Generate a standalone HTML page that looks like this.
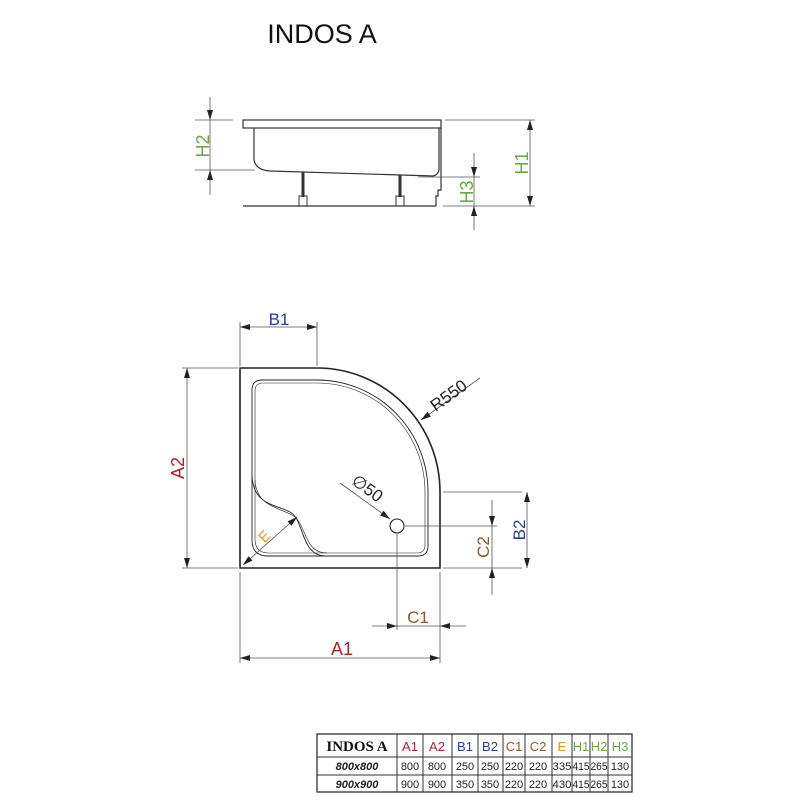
<!DOCTYPE html>
<html><head><meta charset="utf-8"><style>
html,body{margin:0;padding:0;background:#fff;}
svg{display:block}
</style></head><body>
<svg width="800" height="800" viewBox="0 0 800 800" xmlns="http://www.w3.org/2000/svg" font-family="Liberation Sans, sans-serif">
<defs>
<marker id="ar" viewBox="0 0 10 6" refX="10" refY="3" markerWidth="11" markerHeight="6" orient="auto-start-reverse" markerUnits="userSpaceOnUse"><path d="M0,0 L10,3 L0,6 Z" fill="#222"/></marker>
</defs>
<text x="322" y="43" font-size="27" text-anchor="middle" fill="#111">INDOS A</text>

<!-- elevation -->
<g stroke="#333" fill="none" stroke-width="1.2">
<rect x="243" y="120" width="198" height="8" fill="#fff"/>
<path d="M254,128 L254,160 Q256,170 270,171 L433,176 Q438,175 439,170 L439,128"/>
<path d="M439,128 L441,128 L441,190 L438,190 L438,196 L436,196 L436,206"/>
<line x1="243" y1="206" x2="436" y2="206"/>
<line x1="303" y1="172" x2="303" y2="197" stroke-width="3"/>
<rect x="299" y="196" width="8" height="10" stroke-width="1"/>
<line x1="400" y1="175" x2="400" y2="197" stroke-width="3"/>
<rect x="396" y="196" width="8" height="10" stroke-width="1"/>
</g>
<g stroke="#555" stroke-width="0.8" fill="none">
<line x1="195" y1="120" x2="233" y2="120"/>
<line x1="195" y1="170" x2="255" y2="170"/>
<line x1="210" y1="97" x2="210" y2="120" marker-end="url(#ar)"/>
<line x1="210" y1="120" x2="210" y2="170"/>
<line x1="210" y1="195" x2="210" y2="170" marker-end="url(#ar)"/>
<line x1="445" y1="120" x2="535" y2="120"/>
<line x1="443" y1="206" x2="535" y2="206"/>
<line x1="530" y1="120" x2="530" y2="206" marker-start="url(#ar)" marker-end="url(#ar)"/>
<line x1="418" y1="177" x2="480" y2="177"/>
<line x1="474" y1="153" x2="474" y2="177" marker-end="url(#ar)"/>
<line x1="474" y1="177" x2="474" y2="206"/>
<line x1="474" y1="230" x2="474" y2="206" marker-end="url(#ar)"/>
</g>
<g fill="#6aa843" font-size="18">
<text transform="translate(209,146) rotate(-90)" text-anchor="middle">H2</text>
<text transform="translate(528,163) rotate(-90)" text-anchor="middle">H1</text>
<text transform="translate(473,192) rotate(-90)" text-anchor="middle">H3</text>
</g>

<!-- plan -->
<g stroke="#222" fill="none">
<path d="M240,368 L317,368 A123,124 0 0 1 440,492 L440,568 L240,568 Z" stroke-width="1.6"/>
<path d="M262,380 L317,380 A111,112 0 0 1 428,492 L428,546 Q428,556 418,556 L326,556 C300,556 305,520 290,512 C275,504 253,505 252,475 L252,390 Q252,380 262,380 Z" stroke-width="0.9"/>
<path d="M263,383 L317,383 A108,109 0 0 1 425,492 L425,545 Q425,553 417,553 L327,553 C303,553 307,523 292,515 C277,507 256,505 255,480 L255,391 Q255,383 263,383 Z" stroke-width="0.6"/>
<path d="M252,475 L252,540 Q252,556 268,556 L326,556" stroke-width="0.9"/>
<path d="M255,480 L255,539 Q255,553 269,553 L327,553" stroke-width="0.6"/>
<circle cx="397" cy="526" r="7" stroke-width="1.1"/>
</g>
<g stroke="#555" stroke-width="0.8" fill="none">
<line x1="240" y1="322" x2="240" y2="366"/>
<line x1="317" y1="322" x2="317" y2="366"/>
<line x1="240" y1="327" x2="317" y2="327" marker-start="url(#ar)" marker-end="url(#ar)"/>
<line x1="182" y1="368" x2="238" y2="368"/>
<line x1="182" y1="568" x2="238" y2="568"/>
<line x1="187" y1="368" x2="187" y2="568" marker-start="url(#ar)" marker-end="url(#ar)"/>
<line x1="240" y1="572" x2="240" y2="663"/>
<line x1="440" y1="572" x2="440" y2="663"/>
<line x1="240" y1="658" x2="440" y2="658" marker-start="url(#ar)" marker-end="url(#ar)"/>
<line x1="397" y1="534" x2="397" y2="630"/>
<line x1="405" y1="526" x2="497" y2="526"/>
<line x1="372" y1="626" x2="397" y2="626" marker-end="url(#ar)"/>
<line x1="397" y1="626" x2="440" y2="626"/>
<line x1="466" y1="626" x2="440" y2="626" marker-end="url(#ar)"/>
<line x1="492" y1="500" x2="492" y2="526" marker-end="url(#ar)"/>
<line x1="492" y1="526" x2="492" y2="568"/>
<line x1="492" y1="595" x2="492" y2="568" marker-end="url(#ar)"/>
<line x1="443" y1="492" x2="522" y2="492"/>
<line x1="443" y1="568" x2="522" y2="568"/>
<line x1="527" y1="492" x2="527" y2="568" marker-start="url(#ar)" marker-end="url(#ar)"/>
<line x1="480" y1="378" x2="421" y2="420" marker-end="url(#ar)"/>
<line x1="340" y1="483" x2="390" y2="519" marker-end="url(#ar)"/>
<line x1="243" y1="565" x2="297" y2="517" marker-start="url(#ar)" marker-end="url(#ar)"/>
</g>
<text x="279" y="325" font-size="17" fill="#2c3e8f" text-anchor="middle">B1</text>
<text transform="translate(184,468) rotate(-90)" font-size="18" fill="#b52025" text-anchor="middle">A2</text>
<text x="342" y="655" font-size="18" fill="#b52025" text-anchor="middle">A1</text>
<text x="418" y="623" font-size="17" fill="#8a5a2b" text-anchor="middle">C1</text>
<text transform="translate(489,547) rotate(-90)" font-size="17" fill="#8a5a2b" text-anchor="middle">C2</text>
<text transform="translate(525,530) rotate(-90)" font-size="17" fill="#2c3e8f" text-anchor="middle">B2</text>
<text transform="translate(452,400) rotate(-36)" font-size="17" fill="#222" text-anchor="middle">R550</text>
<text transform="translate(364,493) rotate(36)" font-size="17" fill="#222" text-anchor="middle">∅50</text>
<text transform="translate(268,540) rotate(-45)" font-size="15" fill="#e09a2a" text-anchor="middle">E</text>

<!-- table -->
<g stroke="#333" stroke-width="1" fill="none">
<rect x="317" y="734" width="315" height="58" stroke-width="1.3"/>
<line x1="317" y1="757" x2="632" y2="757"/>
<line x1="317" y1="775" x2="632" y2="775"/>
<line x1="397" y1="734" x2="397" y2="792"/>
<line x1="423" y1="734" x2="423" y2="792"/>
<line x1="452" y1="734" x2="452" y2="792"/>
<line x1="478" y1="734" x2="478" y2="792"/>
<line x1="503" y1="734" x2="503" y2="792"/>
<line x1="525" y1="734" x2="525" y2="792"/>
<line x1="552" y1="734" x2="552" y2="792"/>
<line x1="572" y1="734" x2="572" y2="792"/>
<line x1="590" y1="734" x2="590" y2="792"/>
<line x1="608" y1="734" x2="608" y2="792"/>
</g>
<text x="357" y="751" font-size="15" font-weight="bold" font-family="Liberation Serif, serif" text-anchor="middle" fill="#111">INDOS A</text>
<g font-size="13" text-anchor="middle">
<text x="410" y="751" fill="#b52025">A1</text>
<text x="437" y="751" fill="#b52025">A2</text>
<text x="465" y="751" fill="#2c3e8f">B1</text>
<text x="490" y="751" fill="#2c3e8f">B2</text>
<text x="514" y="751" fill="#8a5a2b">C1</text>
<text x="538" y="751" fill="#8a5a2b">C2</text>
<text x="562" y="751" fill="#e09a2a">E</text>
<text x="581" y="751" fill="#6aa843">H1</text>
<text x="599" y="751" fill="#6aa843">H2</text>
<text x="620" y="751" fill="#6aa843">H3</text>
</g>
<g font-size="11" text-anchor="middle" fill="#222">
<text x="357" y="770" font-weight="bold" font-style="italic">800x800</text>
<text x="410" y="770">800</text><text x="437" y="770">800</text><text x="465" y="770">250</text><text x="490" y="770">250</text><text x="514" y="770">220</text><text x="538" y="770">220</text><text x="562" y="770" textLength="19" lengthAdjust="spacingAndGlyphs">335</text><text x="581" y="770" textLength="17" lengthAdjust="spacingAndGlyphs">415</text><text x="599" y="770" textLength="17" lengthAdjust="spacingAndGlyphs">265</text><text x="620" y="770">130</text>
<text x="357" y="788" font-weight="bold" font-style="italic">900x900</text>
<text x="410" y="788">900</text><text x="437" y="788">900</text><text x="465" y="788">350</text><text x="490" y="788">350</text><text x="514" y="788">220</text><text x="538" y="788">220</text><text x="562" y="788" textLength="19" lengthAdjust="spacingAndGlyphs">430</text><text x="581" y="788" textLength="17" lengthAdjust="spacingAndGlyphs">415</text><text x="599" y="788" textLength="17" lengthAdjust="spacingAndGlyphs">265</text><text x="620" y="788">130</text>
</g>
</svg>
</body></html>
